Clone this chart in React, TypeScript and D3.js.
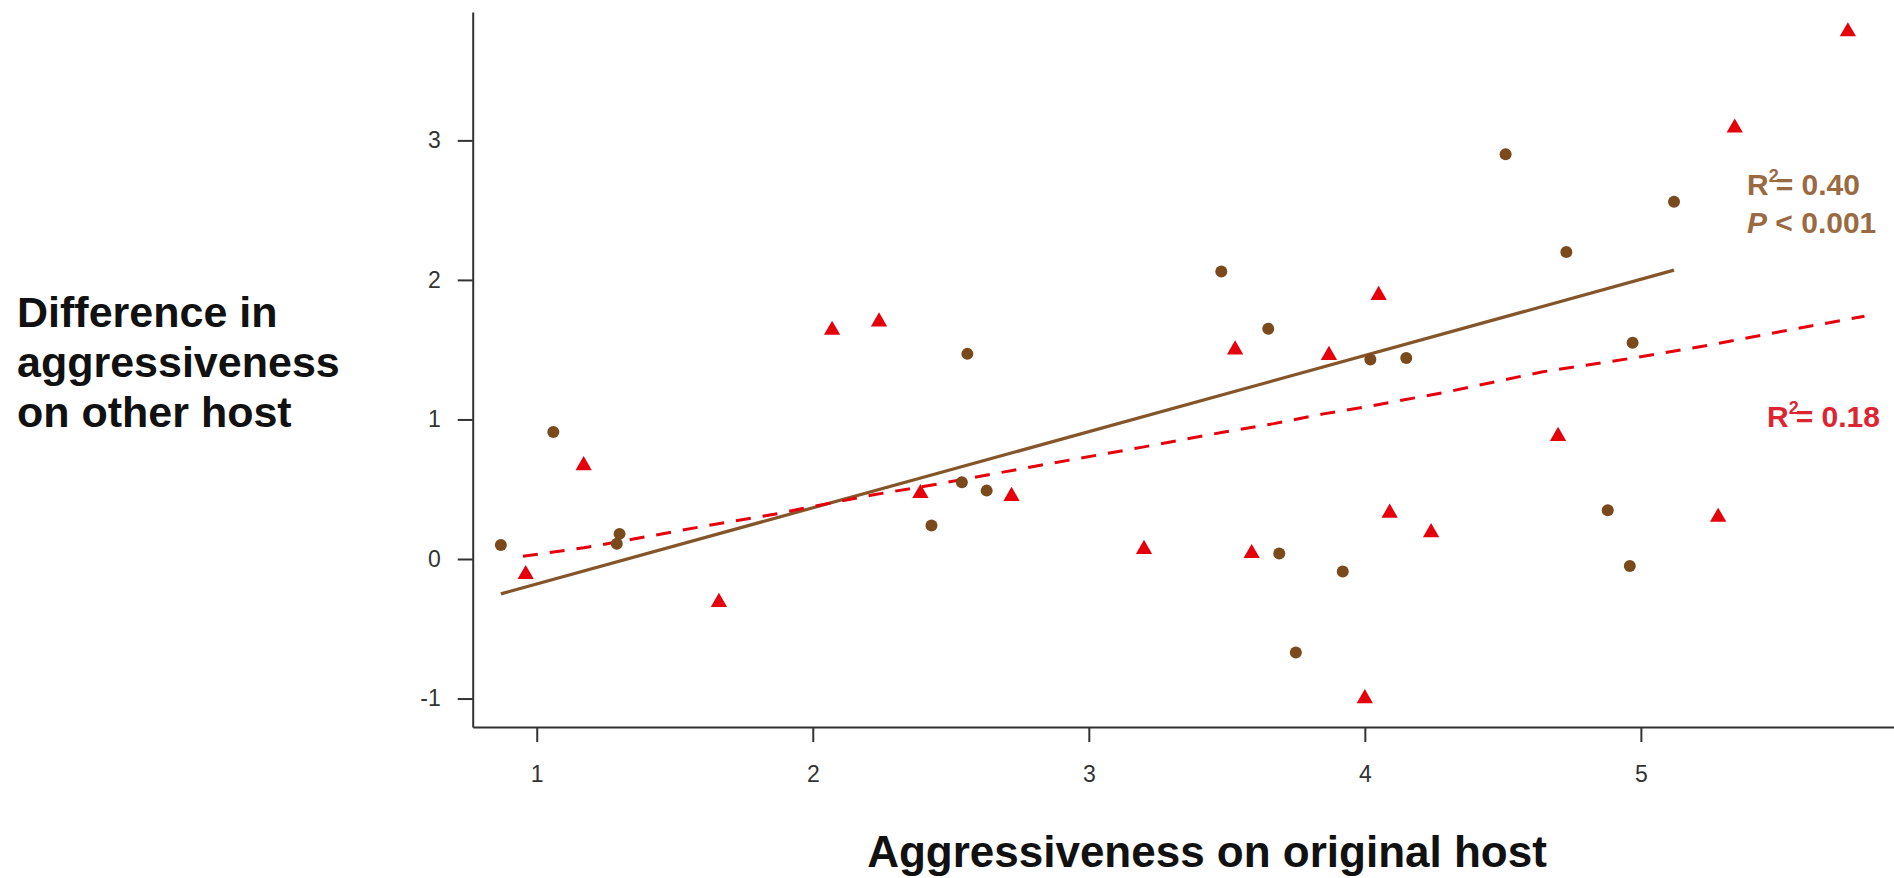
import React, { useRef, useEffect } from 'react';
import * as d3 from 'd3';

// brown circles (one host)
const brownX = [0.87, 1.06, 1.29, 1.30, 2.43, 2.54, 2.56, 2.63, 3.48, 3.65, 3.69, 3.75, 3.92, 4.02, 4.15, 4.51, 4.73, 4.88, 4.96, 4.97, 5.12];
const brownY = [0.10, 0.91, 0.11, 0.18, 0.24, 0.55, 1.47, 0.49, 2.06, 1.65, 0.04, -0.67, -0.09, 1.43, 1.44, 2.90, 2.20, 0.35, -0.05, 1.55, 2.56];

// red triangles (other host)
const redX = [0.96, 1.17, 1.66, 2.07, 2.24, 2.39, 2.72, 3.20, 3.53, 3.59, 3.87, 4.00, 4.05, 4.09, 4.24, 4.70, 5.28, 5.34, 5.75];
const redY = [-0.11, 0.67, -0.31, 1.64, 1.70, 0.47, 0.45, 0.07, 1.50, 0.04, 1.46, -1.00, 1.89, 0.33, 0.19, 0.88, 0.30, 3.09, 3.78];

// fitted lines
const brownFitX = [0.87, 5.12];
const brownFitY = [-0.25, 2.07];
const redFitX = [0.95, 1.17, 1.37, 1.62, 1.86, 2.01, 2.22, 2.46, 2.82, 3.19, 3.49, 3.67, 3.85, 4.03, 4.28, 4.64, 4.97, 5.24, 5.48, 5.81];
const redFitY = [0.02, 0.08, 0.15, 0.24, 0.32, 0.38, 0.46, 0.54, 0.67, 0.80, 0.91, 0.97, 1.04, 1.10, 1.19, 1.34, 1.44, 1.53, 1.62, 1.74];

const xTicks = [1, 2, 3, 4, 5];
const yTicks = [-1, 0, 1, 2, 3];
const yTitleLines = ['Difference in', 'aggressiveness', 'on other host'];
const xTitle = 'Aggressiveness on original host';

const BROWN = '#7a4a1d';
const BROWN_LINE = '#85552a';
const BROWN_TEXT = '#9a6a42';
const RED = '#e5000c';
const RED_TEXT = '#dc2530';
const FONT = '"Liberation Sans", Arial, Helvetica, sans-serif';

export default function App() {
  const svgRef = useRef<SVGSVGElement>(null);

  useEffect(() => {
    const width = 1894;
    const height = 878;
    const left = 472.7;
    const bottom = 727;
    const top = 12;

    const svg = d3.select(svgRef.current).attr('width', width).attr('height', height);
    svg.selectAll('*').remove();

    const x = d3.scaleLinear().domain([0.768, 5.917]).range([left, width]);
    const y = d3.scaleLinear().domain([-1.204, 3.92]).range([bottom, top]);

    // axes (plain hyphen for negatives, like the original)
    const fmt = (d: any) => String(d);
    const xAxis = svg.append('g')
      .attr('transform', `translate(0,${bottom})`)
      .call(d3.axisBottom(x).tickValues(xTicks).tickSizeInner(15).tickSizeOuter(0).tickPadding(24).tickFormat(fmt));
    const yAxis = svg.append('g')
      .attr('transform', `translate(${left},0)`)
      .call(d3.axisLeft(y).tickValues(yTicks).tickSizeInner(15).tickSizeOuter(0).tickPadding(17).tickFormat(fmt));

    [xAxis, yAxis].forEach((ax) => {
      ax.select('.domain').attr('stroke', '#333').attr('stroke-width', 2);
      ax.selectAll('.tick line').attr('stroke', '#333').attr('stroke-width', 2);
      ax.selectAll('.tick text')
        .attr('fill', '#333')
        .attr('font-size', 23)
        .attr('font-family', FONT);
    });

    // fit lines
    const line = d3.line<[number, number]>().x((d) => x(d[0])).y((d) => y(d[1]));
    svg.append('path')
      .attr('d', line(brownFitX.map((v, i) => [v, brownFitY[i]])))
      .attr('fill', 'none')
      .attr('stroke', BROWN_LINE)
      .attr('stroke-width', 3.2);
    svg.append('path')
      .attr('d', line(redFitX.map((v, i) => [v, redFitY[i]])))
      .attr('fill', 'none')
      .attr('stroke', RED)
      .attr('stroke-width', 3)
      .attr('stroke-dasharray', '15 12');

    // points
    svg.append('g').selectAll('circle')
      .data(brownX.map((v, i) => [v, brownY[i]]))
      .join('circle')
      .attr('cx', (d) => x(d[0]))
      .attr('cy', (d) => y(d[1]))
      .attr('r', 6)
      .attr('fill', BROWN);

    const tri = d3.symbol().type(d3.symbolTriangle).size(115);
    svg.append('g').selectAll('path')
      .data(redX.map((v, i) => [v, redY[i]]))
      .join('path')
      .attr('transform', (d) => `translate(${x(d[0])},${y(d[1])})`)
      .attr('d', tri)
      .attr('fill', RED);

    // annotations
    const ann1 = svg.append('text')
      .attr('x', 1747).attr('y', 195)
      .attr('font-family', FONT).attr('font-weight', 'bold').attr('font-size', 30)
      .attr('fill', BROWN_TEXT);
    ann1.append('tspan').text('R');
    ann1.append('tspan').attr('font-size', 18).attr('dy', -13).text('2');
    ann1.append('tspan').attr('dy', 13).attr('dx', -3).text('= 0.40');

    const ann2 = svg.append('text')
      .attr('x', 1747).attr('y', 233)
      .attr('font-family', FONT).attr('font-weight', 'bold').attr('font-size', 30)
      .attr('fill', BROWN_TEXT);
    ann2.append('tspan').attr('font-style', 'italic').text('P');
    ann2.append('tspan').text(' < 0.001');

    const ann3 = svg.append('text')
      .attr('x', 1767).attr('y', 427)
      .attr('font-family', FONT).attr('font-weight', 'bold').attr('font-size', 30)
      .attr('fill', RED_TEXT);
    ann3.append('tspan').text('R');
    ann3.append('tspan').attr('font-size', 18).attr('dy', -13).text('2');
    ann3.append('tspan').attr('dy', 13).attr('dx', -3).text('= 0.18');

    // titles
    svg.append('g').selectAll('text')
      .data(yTitleLines)
      .join('text')
      .attr('x', 17)
      .attr('y', (_, i) => 327 + i * 50)
      .attr('font-family', FONT).attr('font-weight', 'bold').attr('font-size', 43)
      .attr('fill', '#111')
      .text((d) => d);

    svg.append('text')
      .attr('x', 1207).attr('y', 867)
      .attr('text-anchor', 'middle')
      .attr('font-family', FONT).attr('font-weight', 'bold').attr('font-size', 44)
      .attr('fill', '#111')
      .text(xTitle);
  }, []);

  return (
    <svg ref={svgRef} style={{ position: 'absolute', left: 0, top: 0, background: '#fff' }} />
  );
}
